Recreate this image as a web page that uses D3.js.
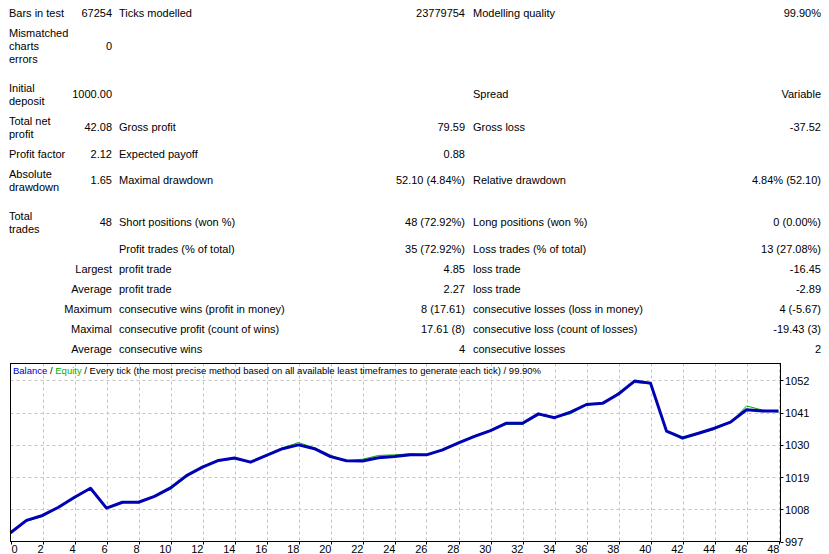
<!DOCTYPE html>
<html>
<head>
<meta charset="utf-8">
<script src="https://cdn.jsdelivr.net/npm/d3@7"></script>
<style>
  body { margin: 0; background: #fff; }
  svg { display: block; font-family: "Liberation Sans", Arial, sans-serif; font-size: 11px; }
</style>
</head>
<body>
<div class="chart"></div>
<script>
// report table, one array per column
var colA = [["Bars in test"], ["Mismatched", "charts", "errors"], ["Initial", "deposit"], ["Total net", "profit"],
  ["Profit factor"], ["Absolute", "drawdown"], ["Total", "trades"], [], [], [], [], [], []];
var colB = ["67254", "0", "1000.00", "42.08", "2.12", "1.65", "48", "", "Largest", "Average", "Maximum", "Maximal", "Average"];
var colC = ["Ticks modelled", "", "", "Gross profit", "Expected payoff", "Maximal drawdown", "Short positions (won %)",
  "Profit trades (% of total)", "profit trade", "profit trade", "consecutive wins (profit in money)",
  "consecutive profit (count of wins)", "consecutive wins"];
var colD = ["23779754", "", "", "79.59", "0.88", "52.10 (4.84%)", "48 (72.92%)", "35 (72.92%)", "4.85", "2.27",
  "8 (17.61)", "17.61 (8)", "4"];
var colE = ["Modelling quality", "", "Spread", "Gross loss", "", "Relative drawdown", "Long positions (won %)",
  "Loss trades (% of total)", "loss trade", "loss trade", "consecutive losses (loss in money)",
  "consecutive loss (count of losses)", "consecutive losses"];
var colF = ["99.90%", "", "Variable", "-37.52", "", "4.84% (52.10)", "0 (0.00%)", "13 (27.08%)", "-16.45", "-2.89",
  "4 (-5.67)", "-19.43 (3)", "2"];

// balance / equity after each trade
var trades = d3.range(0, 49);
var balance = [1000.0, 1004.2, 1005.9, 1008.7, 1012.1, 1015.2, 1008.4, 1010.4, 1010.4, 1012.4,
  1015.3, 1019.5, 1022.4, 1024.7, 1025.5, 1024.1, 1026.4, 1028.7, 1030.0, 1028.7,
  1026.0, 1024.6, 1024.5, 1025.6, 1026.0, 1026.6, 1026.6, 1028.3, 1030.7, 1032.9,
  1034.9, 1037.4, 1037.4, 1040.6, 1039.3, 1041.2, 1043.8, 1044.2, 1047.4, 1051.8,
  1051.1, 1034.7, 1032.4, 1034.0, 1035.7, 1037.8, 1042.0, 1041.6, 1041.6];
var equity = [1000.0, 1003.9, 1005.6, 1008.5, 1011.7, 1015.2, 1008.4, 1010.6, 1010.2, 1012.6,
  1014.8, 1019.0, 1022.8, 1024.5, 1025.2, 1024.1, 1026.6, 1029.0, 1030.8, 1029.0,
  1026.5, 1024.6, 1025.1, 1026.4, 1026.6, 1027.0, 1026.6, 1028.0, 1030.9, 1033.2,
  1035.1, 1037.0, 1037.0, 1040.2, 1039.3, 1040.6, 1043.6, 1044.2, 1047.9, 1051.3,
  1050.8, 1034.7, 1031.9, 1033.7, 1035.3, 1037.6, 1043.3, 1041.9, 1041.2];
var yTicks = [997, 1008, 1019, 1030, 1041, 1052];
var xTicks = d3.range(0, 49, 2);

// layout
var W = 829, H = 554;
var rowY = [17, 50, 98, 131, 158, 184, 226, 253, 273, 293, 313, 333, 353];
var colX = { a: 9, b: 112, c: 119, d: 465, e: 473, f: 821 };
var frame = { left: 10.5, top: 363.5, right: 780.5, bottom: 541.5 };

var svg = d3.select(".chart").append("svg").attr("width", W).attr("height", H);

var table = svg.append("g").attr("fill", "#000");

colA.forEach(function (lines, i) {
  lines.forEach(function (t, j) {
    table.append("text")
      .attr("x", colX.a)
      .attr("y", rowY[i] - (lines.length - 1) * 6.5 + j * 13)
      .text(t);
  });
});

function column(arr, x, anchor) {
  table.selectAll(null)
    .data(arr)
    .enter()
    .append("text")
    .attr("x", x)
    .attr("y", (d, i) => rowY[i])
    .attr("text-anchor", anchor)
    .text(d => d);
}
column(colB, colX.b, "end");
column(colC, colX.c, "start");
column(colD, colX.d, "end");
column(colE, colX.e, "start");
column(colF, colX.f, "end");

// chart
var xScale = d3.scaleLinear().domain([0, 48]).range([frame.left, 778.5]);
var yScale = d3.scaleLinear().domain([997, 997 + 178 / 161 * 55]).range([frame.bottom, frame.top]);

var grid = svg.append("g")
  .attr("stroke", "#c4c4c4")
  .attr("stroke-dasharray", "3,3");

grid.selectAll(".gx")
  .data(xTicks.filter(d => d > 0))
  .enter()
  .append("line")
  .attr("x1", d => Math.round(xScale(d)) + 0.5)
  .attr("x2", d => Math.round(xScale(d)) + 0.5)
  .attr("y1", frame.top)
  .attr("y2", frame.bottom);

grid.selectAll(".gy")
  .data(yTicks.filter(d => d > 997))
  .enter()
  .append("line")
  .attr("x1", frame.left)
  .attr("x2", frame.right)
  .attr("y1", d => Math.round(yScale(d)) + 0.5)
  .attr("y2", d => Math.round(yScale(d)) + 0.5);

var line = d3.line()
  .x((d, i) => xScale(trades[i]))
  .y(d => yScale(d));

svg.append("path")
  .datum(equity)
  .attr("fill", "none")
  .attr("stroke", "#00b000")
  .attr("stroke-width", 1)
  .attr("d", line);

svg.append("path")
  .datum(balance)
  .attr("fill", "none")
  .attr("stroke", "#0000b4")
  .attr("stroke-width", 3)
  .attr("stroke-linejoin", "round")
  .attr("d", line);

svg.append("rect")
  .attr("x", frame.left)
  .attr("y", frame.top)
  .attr("width", frame.right - frame.left)
  .attr("height", frame.bottom - frame.top)
  .attr("fill", "none")
  .attr("stroke", "#000");

// right axis
var yAxis = svg.append("g");
yAxis.selectAll("line")
  .data(yTicks)
  .enter()
  .append("line")
  .attr("x1", frame.right)
  .attr("x2", frame.right + 3)
  .attr("y1", d => Math.round(yScale(d)) + 0.5)
  .attr("y2", d => Math.round(yScale(d)) + 0.5)
  .attr("stroke", "#000");
yAxis.selectAll("text")
  .data(yTicks)
  .enter()
  .append("text")
  .attr("x", 785)
  .attr("y", d => yScale(d) + 4.5)
  .text(d => d);

// bottom axis
var xAxis = svg.append("g");
xAxis.selectAll("line")
  .data(xTicks)
  .enter()
  .append("line")
  .attr("x1", d => Math.round(xScale(d)) + 0.5)
  .attr("x2", d => Math.round(xScale(d)) + 0.5)
  .attr("y1", frame.bottom)
  .attr("y2", frame.bottom + 3)
  .attr("stroke", "#000");
xAxis.selectAll("text")
  .data(xTicks)
  .enter()
  .append("text")
  .attr("x", d => xScale(d) + 1)
  .attr("y", 553)
  .attr("text-anchor", d => d === 0 ? "start" : "end")
  .text(d => d);

// legend line
var legend = svg.append("text").attr("x", 13).attr("y", 374).style("font-size", "9.5px");
legend.append("tspan").attr("fill", "#0000c8").text("Balance");
legend.append("tspan").attr("fill", "#000").text(" / ");
legend.append("tspan").attr("fill", "#00b000").text("Equity");
legend.append("tspan").attr("fill", "#000")
  .text(" / Every tick (the most precise method based on all available least timeframes to generate each tick) / 99.90%");
</script>
</body>
</html>
